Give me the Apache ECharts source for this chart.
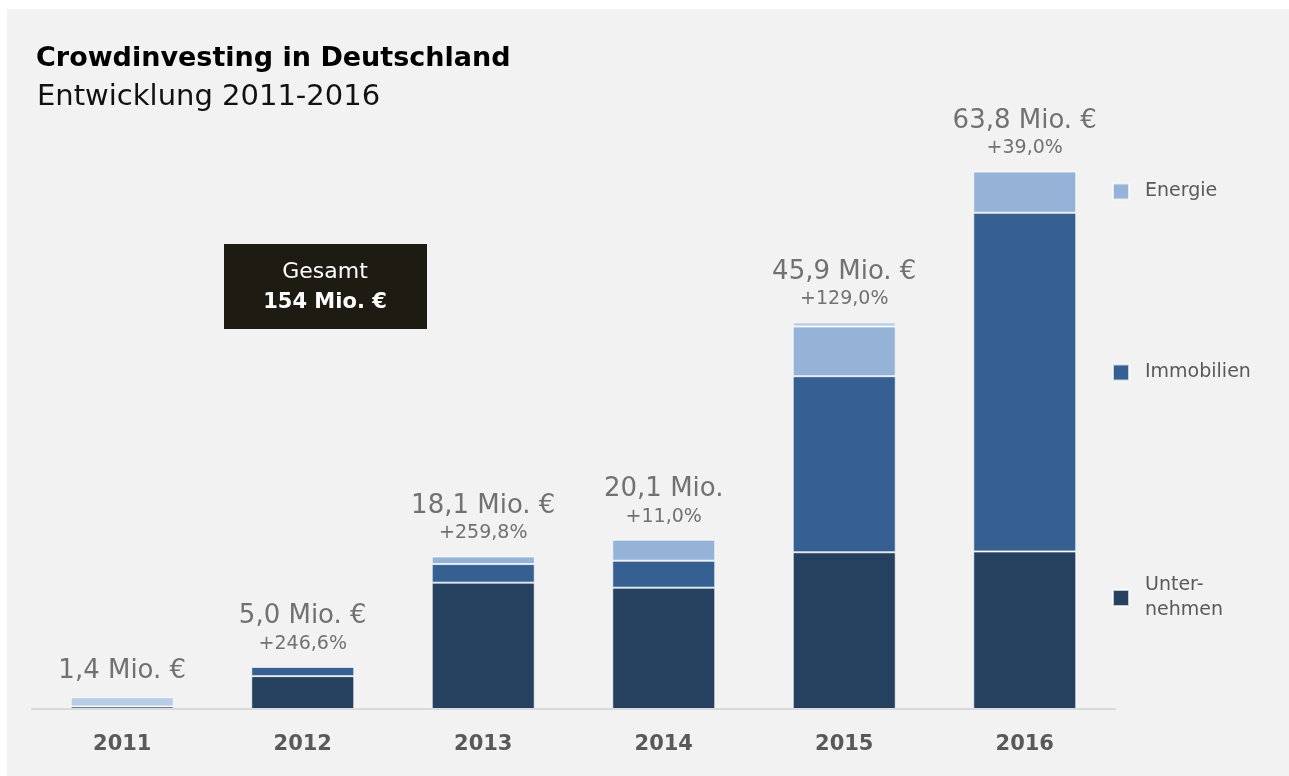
<!DOCTYPE html>
<html>
<head>
<meta charset="utf-8">
<script src="https://cdn.jsdelivr.net/npm/echarts@6/dist/echarts.min.js"></script>
<style>
  html, body { margin: 0; padding: 0; background: #ffffff; }
  #chart { position: absolute; left: 7px; top: 9px; width: 1282px; height: 767px; background: #f2f2f2; }
</style>
</head>
<body>
<div id="chart"></div>
<script>
  // Jahre und Werte (Mio. €)
  var years = ['2011', '2012', '2013', '2014', '2015', '2016'];
  var unternehmen = [0.3, 3.9, 15.0, 14.4, 18.6, 18.7];
  var immobilien = ['-', 1.1, 2.2, 3.2, 20.9, 40.2];
  var energie = ['-', '-', 0.9, 2.5, 5.9, 4.9];
  var sonstige = [1.1, '-', '-', '-', 0.5, '-'];
  var totals = [1.4, 5.0, 18.1, 20.1, 45.9, 63.8];
  var totalLabels = ['1,4 Mio. €', '5,0 Mio. €', '18,1 Mio. €', '20,1 Mio.', '45,9 Mio. €', '63,8 Mio. €'];
  var growthLabels = ['', '+246,6%', '+259,8%', '+11,0%', '+129,0%', '+39,0%'];

  var font = 'DejaVu Sans';
  var grey = '#595959';
  var barBorder = { borderColor: 'rgba(255,255,255,0.7)', borderWidth: 1 };

  var myChart = echarts.init(document.getElementById('chart'));

  function legendAt(name, top) {
    return {
      data: [name],
      orient: 'vertical',
      left: 1100,
      top: top,
      itemWidth: 16,
      itemHeight: 16,
      icon: 'rect',
      selectedMode: false,
      formatter: function (n) { return n === 'Unternehmen' ? 'Unter-\nnehmen' : n; },
      textStyle: { fontFamily: font, fontSize: 19, color: grey, lineHeight: 25, padding: [0, 0, 0, 11] }
    };
  }

  var option = {
    animation: false,
    title: [
      {
        text: 'Crowdinvesting in Deutschland',
        left: 24,
        top: 31,
        textStyle: { fontFamily: font, fontSize: 27, fontWeight: 'bold', color: '#000' }
      },
      {
        text: 'Entwicklung 2011-2016',
        left: 25,
        top: 69,
        textStyle: { fontFamily: font, fontSize: 29, fontWeight: 'normal', color: '#111' }
      }
    ],
    legend: [
      legendAt('Energie', 165),
      legendAt('Immobilien', 346),
      legendAt('Unternehmen', 559)
    ],
    grid: { left: 25, right: 174, top: 26, bottom: 67 },
    xAxis: {
      type: 'category',
      data: years,
      axisLine: { lineStyle: { color: '#d9d9d9', width: 2 } },
      axisTick: { show: false },
      axisLabel: { fontFamily: font, fontSize: 21, fontWeight: 'bold', color: grey, margin: 25 }
    },
    yAxis: {
      type: 'value',
      min: 0,
      max: 80,
      show: false,
      splitLine: { show: false }
    },
    series: [
      {
        name: 'Unternehmen', type: 'bar', stack: 'sum', barWidth: 103,
        itemStyle: Object.assign({ color: '#26405f' }, barBorder),
        data: unternehmen
      },
      {
        name: 'Immobilien', type: 'bar', stack: 'sum', barWidth: 103,
        itemStyle: Object.assign({ color: '#366092' }, barBorder),
        data: immobilien
      },
      {
        name: 'Energie', type: 'bar', stack: 'sum', barWidth: 103,
        itemStyle: Object.assign({ color: '#95b3d7' }, barBorder),
        data: energie
      },
      {
        name: 'Sonstige', type: 'bar', stack: 'sum', barWidth: 103,
        itemStyle: Object.assign({ color: '#b9cde5' }, barBorder),
        data: sonstige
      },
      {
        name: 'Gesamt', type: 'scatter', symbolSize: 1,
        itemStyle: { color: 'rgba(0,0,0,0)' },
        data: totals,
        label: {
          show: true,
          position: 'top',
          distance: 10,
          formatter: function (p) {
            var g = growthLabels[p.dataIndex];
            return '{a|' + totalLabels[p.dataIndex] + '}' + (g ? '\n{b|' + g + '}' : '');
          },
          rich: {
            a: { fontFamily: font, fontSize: 26, color: '#505050', lineHeight: 30, align: 'center' },
            b: { fontFamily: font, fontSize: 19, color: '#505050', lineHeight: 25, align: 'center' }
          }
        }
      }
    ],
    graphic: [
      {
        type: 'group',
        left: 217,
        top: 235,
        children: [
          { type: 'rect', shape: { x: 0, y: 0, width: 203, height: 85 }, style: { fill: '#1e1b12' } },
          {
            type: 'text', x: 101, y: 28,
            style: { text: 'Gesamt', fill: '#fff', font: '22px "' + font + '"', textAlign: 'center', textVerticalAlign: 'middle' }
          },
          {
            type: 'text', x: 101, y: 59,
            style: { text: '154 Mio. €', fill: '#fff', font: 'bold 21px "' + font + '"', textAlign: 'center', textVerticalAlign: 'middle' }
          }
        ]
      }
    ]
  };
  myChart.setOption(option);
  window.addEventListener('resize', function () { myChart.resize(); });
</script>
</body>
</html>
